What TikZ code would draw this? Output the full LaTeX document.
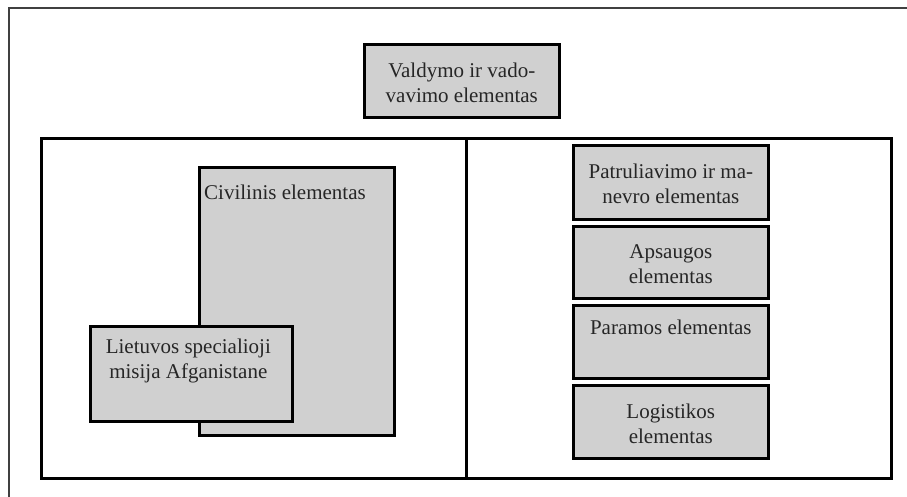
\documentclass[tikz,border=0pt]{standalone}
\usepackage{fontspec}
\setmainfont{Liberation Serif}
\usetikzlibrary{calc}
\definecolor{boxgray}{HTML}{D0D0D0}
\definecolor{framegray}{HTML}{404040}
\tikzset{
  box/.style={draw=black, fill=boxgray, line width=2.6pt, rectangle, inner sep=0pt, anchor=north west},
  bigbox/.style={draw=black, line width=3.4pt, rectangle, inner sep=0pt, anchor=north west},
  txt/.style={font=\fontsize{21}{25}\selectfont, align=center, inner sep=0pt, text=black!85},
}
\begin{document}
\begin{tikzpicture}[x=1pt,y=-1pt]
\useasboundingbox (0,0) rectangle (907,496);
\fill[white] (0,0) rectangle (907,496);
% outer frame (top and left edges visible)
\coordinate (fbl) at (9,500);
\coordinate (ftl) at (9,8);
\coordinate (ftr) at (910,8);
\draw[framegray, line width=1.4pt] (fbl) -- (ftl) -- (ftr);

% top box
\node[box, minimum width=195pt, minimum height=73pt] (valdymo) at (363,43) {};
\node[txt] (valdymot) at ($(valdymo.center)+(0,2)$) {Valdymo ir vado-\\vavimo elementas};

% big container
\node[bigbox, minimum width=850pt, minimum height=340pt] (big) at (40,137) {};
\draw[line width=3.2pt] (big.north) -- (big.south);

% left side
\node[box, minimum width=195pt, minimum height=268pt] (civ) at (198,166) {};
\node[txt, anchor=base west] (civt) at ($(civ.north west)+(6,33)$) {Civilinis elementas};
\node[box, minimum width=202pt, minimum height=95pt] (liet) at (89,325) {};
\node[txt, anchor=center] (lietaa) at ($(liet.north)+(-3,36)$) {Lietuvos specialioji\\misija Afganistane};

% right side
\node[box, minimum width=195pt, minimum height=74pt] (r1) at (572,144) {};
\node[txt] (r1t) at ($(r1.center)+(0,2)$) {Patruliavimo ir ma-\\nevro elementas};
\node[box, minimum width=195pt, minimum height=72pt] (r2) at (572,225) {};
\node[txt] (r2t) at ($(r2.center)+(0,2)$) {Apsaugos\\elementas};
\node[box, minimum width=195pt, minimum height=73pt] (r3) at (572,304) {};
\node[txt, anchor=base] (r3t) at ($(r3.north)+(0,30)$) {Paramos elementas};
\node[box, minimum width=195pt, minimum height=73pt] (r4) at (572,384) {};
\node[txt] (r4t) at ($(r4.center)+(0,2)$) {Logistikos\\elementas};
\end{tikzpicture}
\end{document}
